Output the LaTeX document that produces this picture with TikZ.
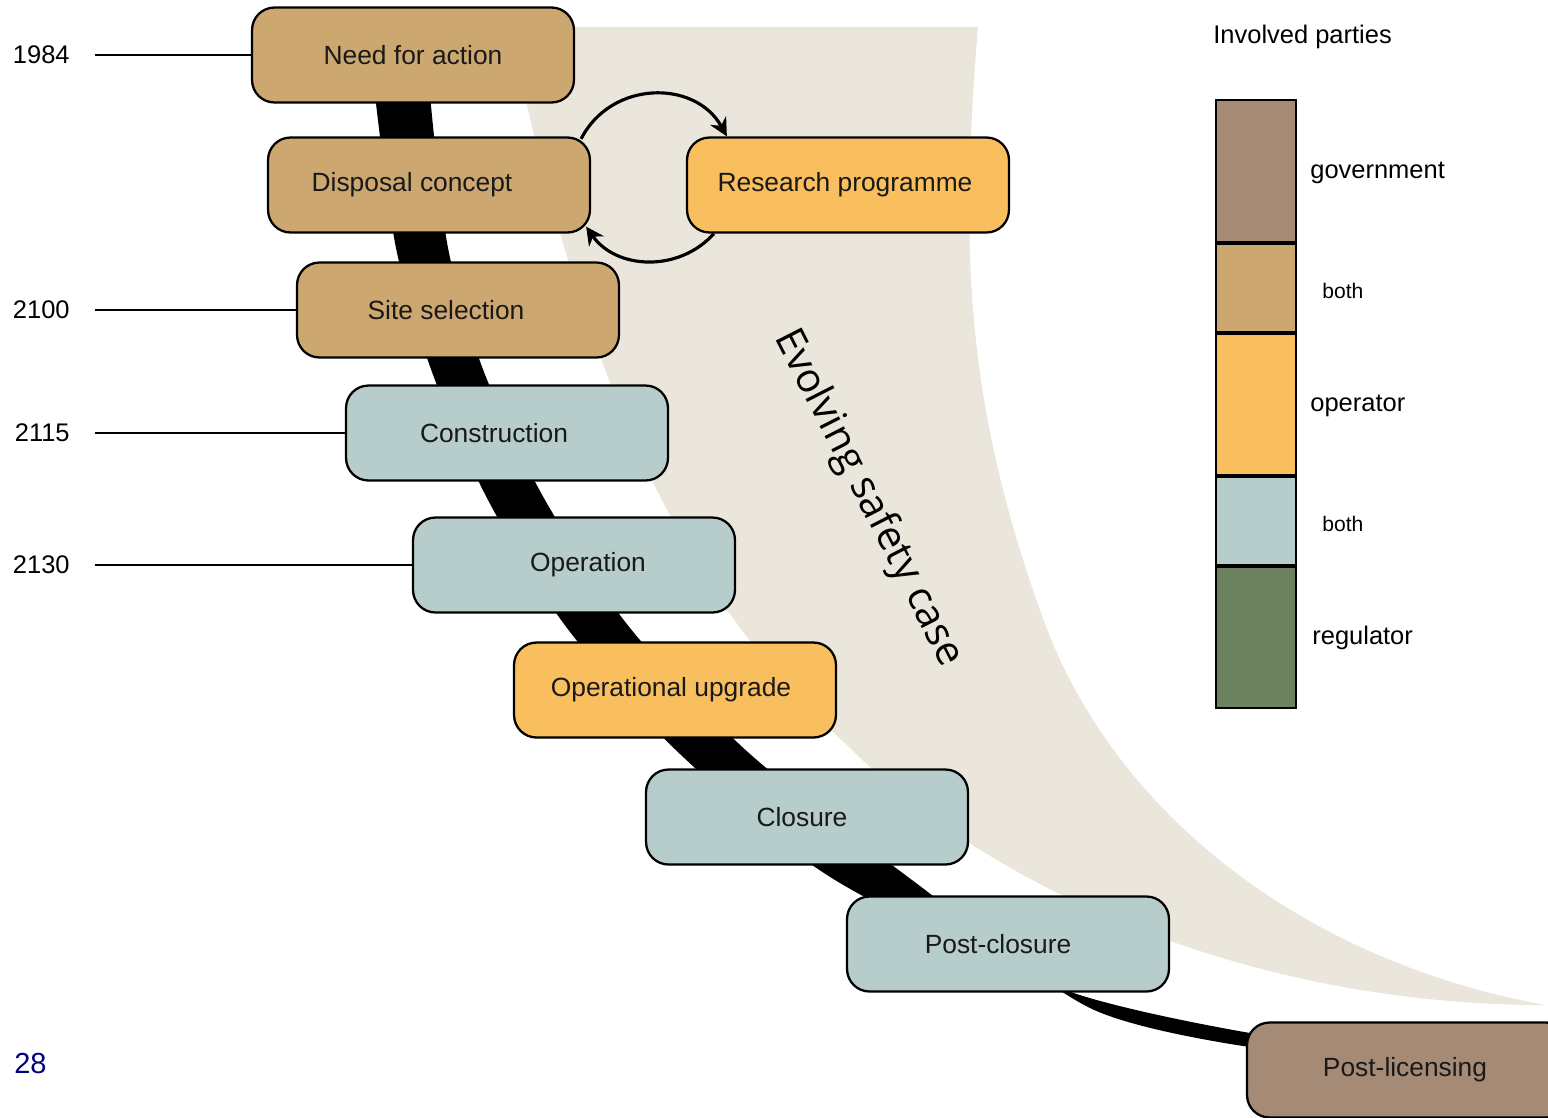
\documentclass[tikz,border=0pt]{standalone}
\usepackage{fontspec}
\setmainfont{Liberation Sans}
\newfontfamily\casefont{Open Sans}
\usepackage{tikz}
\usetikzlibrary{arrows.meta}
\definecolor{govbrown}{RGB}{165,138,118}
\definecolor{bothtan}{RGB}{204,168,112}
\definecolor{operorange}{RGB}{249,191,94}
\definecolor{bothgrey}{RGB}{183,205,203}
\definecolor{reggreen}{RGB}{107,129,96}
\definecolor{casebg}{RGB}{235,230,219}
\definecolor{pagenavy}{RGB}{0,0,128}
\tikzset{phase/.style = {draw, line width=1.3pt, rounded corners=0.45cm,
                         minimum width=6.44cm, minimum height=1.9cm,
                         text=black!90, font=\fontsize{15}{18}\selectfont}}
\tikzset{nudge/.style = {execute at begin node={\hspace*{#1}}}}
\tikzset{yearlbl/.style = {anchor=east, inner sep=0, font=\fontsize{14.5}{17}\selectfont}}
\tikzset{legendlbl/.style = {anchor=west, inner sep=0, font=\fontsize{14.5}{17}\selectfont}}
\tikzset{loopline/.style = {line width=1.8pt, -{Stealth[length=0.36cm,width=0.36cm]}}}

\begin{document}
\begin{tikzpicture}[x=0.02cm, y=-0.02cm]
      \useasboundingbox (0, 0) rectangle (1548, 1117);

      % evolving safety case band
      \fill [casebg] (507, 27) -- (978, 27)
            .. controls (960, 250) and (965, 400) .. (1041, 613)
            .. controls (1110, 810) and (1300, 960) .. (1545, 1005)
            .. controls (1250, 1005) and (990, 890) .. (845, 743)
            .. controls (700, 615) and (600, 420) .. (527, 105)
            -- cycle;

      % time line behind the phases
      \fill plot [smooth] coordinates {(375, 95) (396, 248) (432, 372) (488, 500) (567, 628)
                (680, 754) (835, 880) (1065, 990) (1250, 1033)}
            -- plot [smooth] coordinates {(1250, 1047) (1090, 1008) (912, 880) (750, 754)
                (630, 628) (545, 500) (484, 372) (448, 248) (430, 95)}
            -- cycle;

      \node [phase, fill=bothtan] (need) at (413, 55) {Need for action};
      \node [phase, fill=bothtan, nudge=-0.68cm] (concept) at (429, 185) {Disposal concept};
      \node [phase, fill=operorange, nudge=-0.12cm] (research) at (848, 185) {Research programme};
      \node [phase, fill=bothtan, nudge=-0.48cm] (site) at (458, 310) {Site selection};
      \node [phase, fill=bothgrey, nudge=-0.52cm] (constr) at (507, 433) {Construction};
      \node [phase, fill=bothgrey, nudge=0.56cm] (oper) at (574, 565) {Operation};
      \node [phase, fill=operorange, nudge=-0.16cm] (upgrade) at (675, 690) {Operational upgrade};
      \node [phase, fill=bothgrey, nudge=-0.2cm] (closure) at (807, 817) {Closure};
      \node [phase, fill=bothgrey, nudge=-0.4cm] (postcl) at (1008, 944) {Post-closure};
      \node [phase, fill=govbrown, nudge=-0.12cm] (postlic) at (1408, 1070) {Post-licensing};

      \foreach \yr/\n in {1984/need, 2100/site, 2115/constr, 2130/oper} {
        \node [yearlbl] (y\n) at (70, 0 |- \n) {\yr};
        \draw [line width=1.3pt] ([xshift=0.5cm]y\n.east) -- (\n.west);
      }

      \draw [loopline] ([xshift=-0.2cm, yshift=-0.05cm]concept.north east)
            to [out=63, in=119, looseness=1.15] ([xshift=0.82cm]research.north west);
      \draw [loopline] ([xshift=0.56cm]research.south west)
            to [out=-132, in=-55, looseness=1.05] ([xshift=-0.1cm, yshift=0.14cm]concept.south east);

      \node [rotate=-63, font=\casefont\fontsize{23}{27}\selectfont] (casetxt) at (868, 498) {Evolving safety case};

      % legend
      \node [legendlbl] (parties) at (1213, 37) {Involved parties};
      \foreach \top/\bot/\col in {100/243/govbrown, 243/333/bothtan, 333/476/operorange,
                                  476/566/bothgrey, 566/708/reggreen} {
        \draw [fill=\col, line width=1.1pt] (1216, \top) rectangle (1296, \bot);
      }
      \foreach \y in {243, 333, 476, 566} {
        \draw [line width=2.2pt] (1216, \y) -- (1296, \y);
      }
      \node [legendlbl] (lgov) at (1310, 173) {government};
      \node [legendlbl, font=\fontsize{12}{14}\selectfont] (lboth) at (1322, 291) {both};
      \node [legendlbl] (lop) at (1310, 406) {operator};
      \node [legendlbl, font=\fontsize{12}{14}\selectfont] (lboth2) at (1322, 524) {both};
      \node [legendlbl] (lreg) at (1312, 638) {regulator};

      \node [anchor=west, inner sep=0, text=pagenavy, font=\fontsize{16.5}{19}\selectfont] (pageno) at (14, 1063) {28};

    \end{tikzpicture}
\end{document}
